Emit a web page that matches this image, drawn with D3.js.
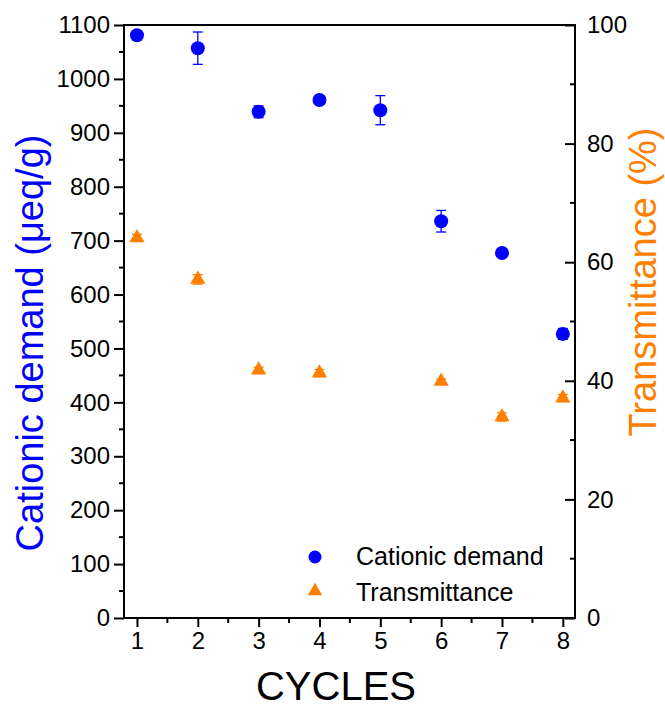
<!DOCTYPE html>
<html>
<head>
<meta charset="utf-8">
<script src="https://cdn.jsdelivr.net/npm/d3@7"></script>
<style>
  body { margin: 0; background: #fff; }
  svg { font-family: "Liberation Sans", Arial, sans-serif; }
</style>
</head>
<body>
<svg id="chart" width="665" height="709"></svg>
<script>
const w = 665;
const h = 709;

var cycles = [1, 2, 3, 4, 5, 6, 7, 8];
var demand = [1081, 1057, 939, 961, 942, 736, 677, 527];
var demandErr = [4, 30, 11, 4, 27, 20, 5, 10];
var transmittance = [64.1, 57.1, 41.8, 41.3, null, 39.9, 33.9, 37.1];
var transErr = [0.6, 0.8, 0.5, 0.6, null, 0.4, 0.7, 0.6];
var leftTicks = d3.range(0, 1101, 100);
var rightTicks = [0, 20, 40, 60, 80, 100];

const blue = "#0000ff";
const orange = "#ff7f00";

const pLeft = 124, pRight = 575, pTop = 25, pBottom = 618;

var x = d3.scaleLinear().domain([0.787, 8.2]).range([pLeft, pRight]);
var yL = d3.scaleLinear().domain([0, 1100]).range([pBottom, pTop]);
var yR = d3.scaleLinear().domain([0, 100]).range([pBottom, pTop]);

var svg = d3.select("#chart");

// frame
svg.append("rect")
  .attr("x", pLeft).attr("y", pTop)
  .attr("width", pRight - pLeft).attr("height", pBottom - pTop)
  .attr("fill", "none").attr("stroke", "#000").attr("stroke-width", 2);

// bottom axis
var xAxis = svg.append("g").attr("transform", "translate(0," + pBottom + ")")
  .call(d3.axisBottom(x).tickValues(cycles).tickSize(9).tickPadding(5).tickFormat(d3.format("d")));
xAxis.append("g").selectAll("line")
  .data(d3.range(1.5, 8, 1))
  .enter().append("line")
  .attr("x1", function (d) { return x(d); })
  .attr("x2", function (d) { return x(d); })
  .attr("y1", 0).attr("y2", 5)
  .attr("stroke", "#000").attr("stroke-width", 2);

// left axis
var yAxisL = svg.append("g").attr("transform", "translate(" + pLeft + ",0)")
  .call(d3.axisLeft(yL).tickValues(leftTicks).tickSize(10).tickPadding(4).tickFormat(d3.format("d")));
yAxisL.append("g").selectAll("line")
  .data(d3.range(50, 1100, 100))
  .enter().append("line")
  .attr("y1", function (d) { return yL(d); })
  .attr("y2", function (d) { return yL(d); })
  .attr("x1", 0).attr("x2", -5)
  .attr("stroke", "#000").attr("stroke-width", 2);

// right axis (ticks point inward)
var yAxisR = svg.append("g").attr("transform", "translate(" + pRight + ",0)")
  .call(d3.axisRight(yR).tickValues(rightTicks).tickSize(-10).tickFormat(d3.format("d")));
yAxisR.append("g").selectAll("line")
  .data(d3.range(10, 100, 20))
  .enter().append("line")
  .attr("y1", function (d) { return yR(d); })
  .attr("y2", function (d) { return yR(d); })
  .attr("x1", 0).attr("x2", -5)
  .attr("stroke", "#000").attr("stroke-width", 2);

[xAxis, yAxisL, yAxisR].forEach(function (g) {
  g.select(".domain").remove();
  g.attr("font-family", null).attr("font-size", null);
  g.selectAll(".tick line").attr("stroke", "#000").attr("stroke-width", 2);
  g.selectAll(".tick text").attr("font-size", "24px").attr("fill", "#000");
});
yAxisR.selectAll(".tick text").attr("x", 12);

// error bars - cationic demand
var errG = svg.append("g").attr("stroke", blue).attr("stroke-width", 1.3);
cycles.forEach(function (c, i) {
  var cx = x(c), hi = yL(demand[i] + demandErr[i]), lo = yL(demand[i] - demandErr[i]);
  errG.append("line").attr("x1", cx).attr("x2", cx).attr("y1", hi).attr("y2", lo);
  errG.append("line").attr("x1", cx - 5).attr("x2", cx + 5).attr("y1", hi).attr("y2", hi);
  errG.append("line").attr("x1", cx - 5).attr("x2", cx + 5).attr("y1", lo).attr("y2", lo);
});

// error bars - transmittance
var errT = svg.append("g").attr("stroke", orange).attr("stroke-width", 1.3);
cycles.forEach(function (c, i) {
  if (transmittance[i] == null) return;
  var cx = x(c), hi = yR(transmittance[i] + transErr[i]), lo = yR(transmittance[i] - transErr[i]);
  errT.append("line").attr("x1", cx).attr("x2", cx).attr("y1", hi).attr("y2", lo);
  errT.append("line").attr("x1", cx - 5).attr("x2", cx + 5).attr("y1", hi).attr("y2", hi);
  errT.append("line").attr("x1", cx - 5).attr("x2", cx + 5).attr("y1", lo).attr("y2", lo);
});

// points
svg.append("g").selectAll("circle")
  .data(cycles)
  .enter().append("circle")
  .attr("cx", function (d) { return x(d); })
  .attr("cy", function (d, i) { return yL(demand[i]); })
  .attr("r", 7)
  .attr("fill", blue);

var tri = d3.symbol().type(d3.symbolTriangle).size(100);
svg.append("g").selectAll("path")
  .data(cycles.filter(function (d, i) { return transmittance[i] != null; }))
  .enter().append("path")
  .attr("d", tri)
  .attr("transform", function (d) {
    return "translate(" + x(d) + "," + yR(transmittance[d - 1]) + ")";
  })
  .attr("fill", orange);

// axis titles
svg.append("text")
  .text("CYCLES")
  .attr("x", 336).attr("y", 700)
  .attr("text-anchor", "middle")
  .attr("font-size", "40px").attr("fill", "#000");

svg.append("text")
  .text("Cationic demand (\u03bceq/g)")
  .attr("transform", "translate(43,343) rotate(-90)")
  .attr("text-anchor", "middle")
  .attr("font-size", "38px").attr("fill", blue);

svg.append("text")
  .text("Transmittance (%)")
  .attr("transform", "translate(656,282) rotate(-90)")
  .attr("text-anchor", "middle")
  .attr("font-size", "38px").attr("fill", orange);

// legend
var leg = svg.append("g");
leg.append("circle").attr("cx", 315).attr("cy", 557).attr("r", 6.5).attr("fill", blue);
leg.append("path").attr("d", d3.symbol().type(d3.symbolTriangle).size(90))
  .attr("transform", "translate(315,591)").attr("fill", orange);
leg.append("text").text("Cationic demand").attr("x", 356).attr("y", 565)
  .attr("font-size", "25px").attr("fill", "#000");
leg.append("text").text("Transmittance").attr("x", 356).attr("y", 601)
  .attr("font-size", "25px").attr("fill", "#000");
</script>
</body>
</html>
